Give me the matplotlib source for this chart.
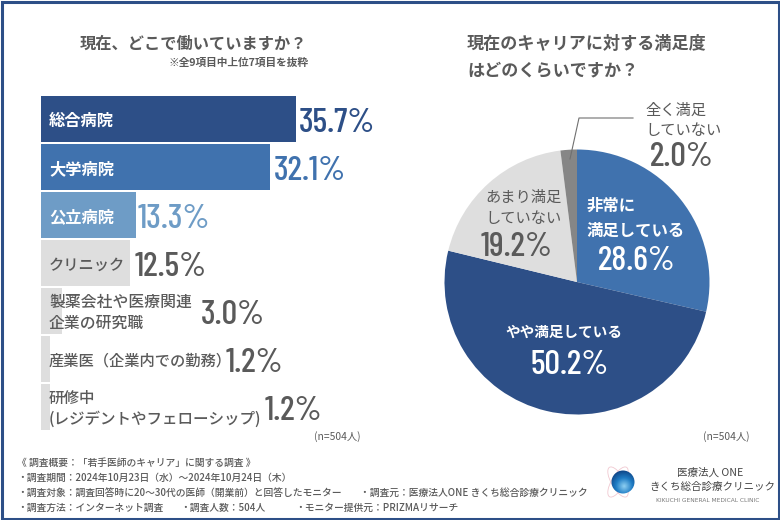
import numpy as np
import matplotlib
matplotlib.use('Agg')
from matplotlib import pyplot as plt
from matplotlib import patches
from matplotlib.colors import LinearSegmentedColormap

plt.rcParams['font.family'] = ['Noto Sans CJK JP', 'DejaVu Sans']

# bar chart data
workplaces = ['総合病院', '大学病院', '公立病院', 'クリニック',
              '製薬会社や医療関連\n企業の研究職', '産業医（企業内での勤務）',
              '研修中\n(レジデントやフェローシップ)']
workplace_pct = [35.7, 32.1, 13.3, 12.5, 3.0, 1.2, 1.2]

# pie chart data
satisfaction = ['非常に\n満足している', 'やや満足している', 'あまり満足\nしていない', '全く満足\nしていない']
satisfaction_pct = [28.6, 50.2, 19.2, 2.0]

NAVY = '#2d4f87'
BLUE = '#4072ae'
LIGHT = '#6e9cc6'
GREY = '#dedede'
MID = '#868686'
TXT = '#5a5a5a'
NUM = ['Barlow Condensed', 'Roboto']

bar_colors = [NAVY, BLUE, LIGHT, GREY, GREY, GREY, GREY]
label_colors = ['white', 'white', 'white', TXT, TXT, TXT, TXT]
value_colors = [NAVY, BLUE, LIGHT, TXT, TXT, TXT, TXT]
label_sizes = [11.7, 11.7, 11.7, 11, 11.4, 11, 11.2]
# where the value text starts, the long labels push it to the right
value_x = [299, 274, 138, 135, 201, 226, 265]

W, H = 780, 520
fig = plt.figure(figsize=(W / 100, H / 100), dpi=100, facecolor='white')


def px_axes(left, top, right, bottom):
    return fig.add_axes([left / W, 1 - bottom / H, (right - left) / W, (bottom - top) / H])


# Bars
axb = px_axes(41, 95, 381, 431)
axb.barh(range(len(workplaces)), workplace_pct, height=0.955, color=bar_colors)
axb.set_xlim(0, 340 / 7.14)
axb.set_ylim(len(workplaces) - 0.5, -0.5)
axb.axis('off')

# Pie
axp = px_axes(434, 139, 720, 425)
axp.pie(satisfaction_pct, startangle=90, counterclock=False, radius=1.0,
        colors=[BLUE, NAVY, GREY, MID], wedgeprops={'linewidth': 0})
axp.set_xlim(-143 / 132.5, 143 / 132.5)
axp.set_ylim(-143 / 132.5, 143 / 132.5)

# Everything else is placed in pixels on an overlay
ax = fig.add_axes([0, 0, 1, 1], facecolor='none')
ax.set_xlim(0, W)
ax.set_ylim(H, 0)
ax.axis('off')


def number(x, y, s, color, size=25, ha='left'):
    # va center sits a little high for these digits
    ax.text(x, y + 3, s, color=color, fontsize=size, ha=ha, va='center', family=NUM, weight='medium')


# frame
ax.add_patch(patches.Rectangle((1.5, 1.5), W - 3, H - 3, fill=False, ec=NAVY, lw=2.2))

# titles
ax.text(193, 44, '現在、どこで働いていますか？', fontsize=11.7, color=TXT, weight='bold', ha='center', va='center')
ax.text(308, 63, '※全9項目中上位7項目を抜粋', fontsize=7.7, color=TXT, weight='bold', ha='right', va='center')
ax.text(467, 44, '現在のキャリアに対する満足度', fontsize=12.3, color=TXT, weight='bold', va='center')
ax.text(467, 70, 'はどのくらいですか？', fontsize=12.3, color=TXT, weight='bold', va='center')

# bar labels and values
for i, name in enumerate(workplaces):
    yc = 120 + 48 * i
    ax.text(49, yc + 1, name, color=label_colors[i], fontsize=label_sizes[i],
            weight='bold' if i < 3 else 'medium', va='center', linespacing=1.32)
    number(value_x[i], yc, '%.1f%%' % workplace_pct[i], value_colors[i])

ax.text(361, 437, '(n=504人)', fontsize=7.4, color=TXT, ha='right', va='center')
ax.text(750, 437, '(n=504人)', fontsize=7.4, color=TXT, ha='right', va='center')

# pie labels
ax.text(587, 206, '非常に', color='white', fontsize=11.8, weight='bold', va='center')
ax.text(587, 231, '満足している', color='white', fontsize=11.8, weight='bold', va='center')
number(637, 258, '%.1f%%' % satisfaction_pct[0], 'white', ha='center')
ax.text(564, 332, satisfaction[1], color='white', fontsize=10.5, weight='bold', ha='center', va='center')
number(570, 362, '%.1f%%' % satisfaction_pct[1], 'white', ha='center')
ax.text(485, 197, 'あまり満足', color=TXT, fontsize=11, va='center')
ax.text(485, 218, 'していない', color=TXT, fontsize=11, va='center')
number(517, 244, '%.1f%%' % satisfaction_pct[2], TXT, ha='center')
ax.text(645, 110, '全く満足', color=TXT, fontsize=11, va='center')
ax.text(645, 131, 'していない', color=TXT, fontsize=11, va='center')
number(682, 155, '%.1f%%' % satisfaction_pct[3], TXT, ha='center')
ax.plot([570, 579, 633], [159, 118, 118], color='#707070', lw=0.8)

# footer
foot = dict(fontsize=7.05, color=TXT, va='center', weight='medium')
ax.text(17, 463, '《 調査概要：「若手医師のキャリア」に関する調査 》', **foot)
ax.text(17, 478, '・調査期間：2024年10月23日（水）～2024年10月24日（木）', **foot)
ax.text(17, 493, '・調査対象：調査回答時に20～30代の医師（開業前）と回答したモニター', **foot)
ax.text(360, 493, '・調査元：医療法人ONE きくち総合診療クリニック', **foot)
ax.text(17, 508, '・調査方法：インターネット調査', **foot)
ax.text(180, 508, '・調査人数：504人', **foot)
ax.text(295, 508, '・モニター提供元：PRIZMAリサーチ', **foot)

# logo
for ang in (-30, 30):
    ax.add_patch(patches.Ellipse((618, 482), 13, 34, angle=ang, fill=False, ec='#f0c8d0', lw=0.6))
yy, xx = np.mgrid[-1:1:60j, -1:1:60j]
shade = np.hypot(xx - 0.1, yy - 0.35)
sphere = LinearSegmentedColormap.from_list('sphere', ['#8fd0f2', '#1f7cc4', '#0c3f80'])
im = ax.imshow(shade, extent=(611, 635, 494, 470), cmap=sphere, vmin=0, vmax=1.4, aspect='auto', zorder=3)
im.set_clip_path(patches.Circle((623, 482), 11.5, transform=ax.transData))
ax.set_xlim(0, W)
ax.set_ylim(H, 0)
ax.text(710, 473, '医療法人 ONE', fontsize=7.6, color='#444444', ha='center', va='center')
ax.text(712, 487, 'きくち総合診療クリニック', fontsize=7.6, color='#444444', ha='center', va='center')
ax.text(708, 501, 'KIKUCHI GENERAL MEDICAL CLINIC', fontsize=4.2, color='#777777', ha='center', va='center', family='DejaVu Sans')

fig.savefig('out.png', dpi=100, facecolor='white')
